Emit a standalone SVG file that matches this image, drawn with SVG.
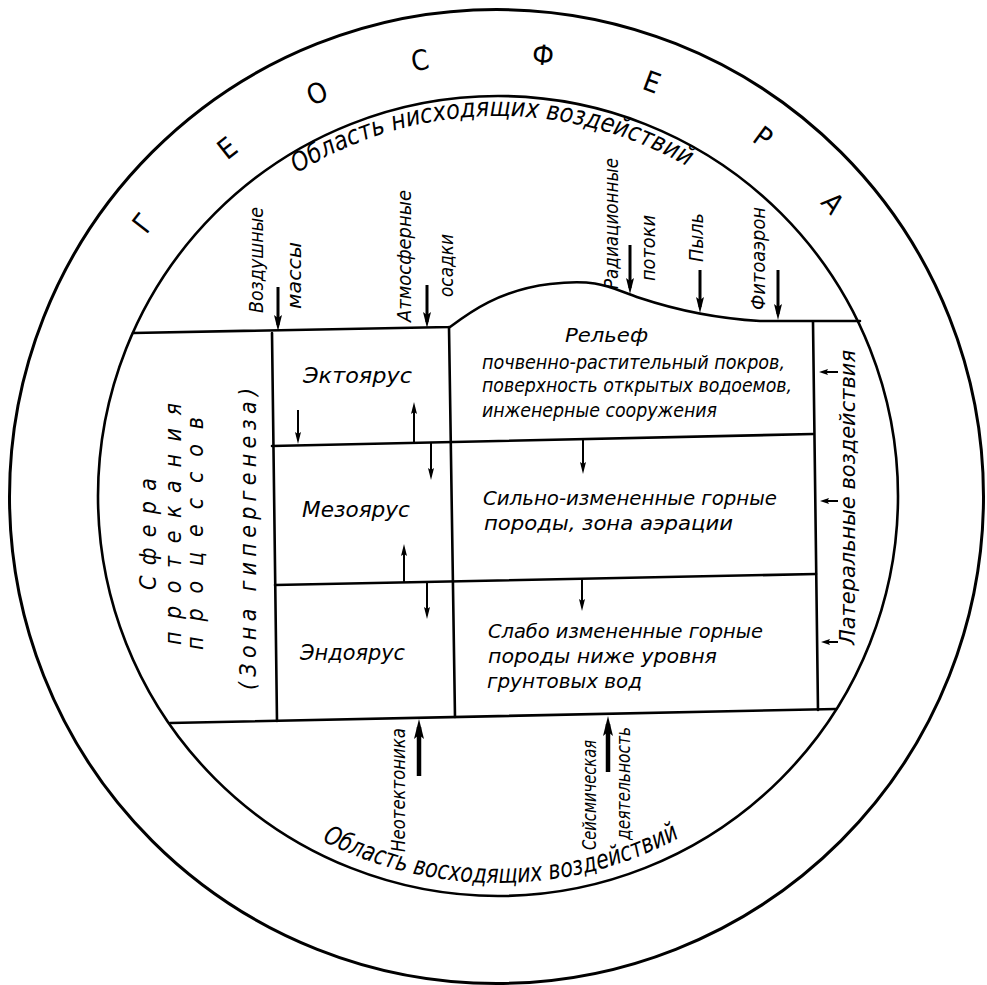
<svg xmlns="http://www.w3.org/2000/svg" width="987" height="985" viewBox="0 0 987 985">
<style>
.ring{fill:none;stroke:#000;stroke-width:3}
.ln{fill:none;stroke:#000;stroke-width:2.6;stroke-linecap:round;stroke-linejoin:round}
.t{font-family:'Liberation Sans Narrow','DejaVu Sans Condensed','Liberation Sans',sans-serif;font-style:italic;fill:#000}
.g{font-family:'Liberation Sans Narrow','DejaVu Sans Condensed','Liberation Sans',sans-serif;font-size:28px;fill:#000}
.s20{font-size:20px}
.s21{font-size:21px}
.s22{font-size:22px}
.s23{font-size:23px}
.s26{font-size:26px}
.a{fill:none;stroke:#000;stroke-width:2;marker-end:url(#ah)}
.as{fill:none;stroke:#000;stroke-width:2;marker-end:url(#ahs)}
.ab{fill:none;stroke:#000;stroke-width:3;marker-end:url(#ahb)}
.abb{fill:none;stroke:#000;stroke-width:4.5;marker-end:url(#ahbb)}
</style>
<defs>
<marker id="ah" markerUnits="userSpaceOnUse" markerWidth="12" markerHeight="6" viewBox="0 0 12 6" refX="8" refY="3" orient="auto"><path d="M0,0 L12,3 L0,6 L2,3 z" fill="#000"/></marker>
<marker id="ahs" markerUnits="userSpaceOnUse" markerWidth="9" markerHeight="6" viewBox="0 0 9 6" refX="6" refY="3" orient="auto"><path d="M0,0 L9,3 L0,6 L1.5,3 z" fill="#000"/></marker>
<marker id="ahb" markerUnits="userSpaceOnUse" markerWidth="16" markerHeight="8" viewBox="0 0 16 8" refX="10" refY="4" orient="auto"><path d="M0,0 L16,4 L0,8 L3,4 z" fill="#000"/></marker>
<marker id="ahbb" markerUnits="userSpaceOnUse" markerWidth="20" markerHeight="10" viewBox="0 0 20 10" refX="12" refY="5" orient="auto"><path d="M0,0 L20,5 L0,10 L4,5 z" fill="#000"/></marker>
<path id="arcTop" d="M118,496 A380,380 0 0 1 878,496"/>
<path id="arcBot" d="M111,496 A387,387 0 0 0 885,496"/>
</defs>
<rect width="987" height="985" fill="#fff"/>

<g id="geosphere">
<circle class="ring" cx="496.5" cy="496.5" r="487"/>
<text class="g" text-anchor="middle" dy="10" transform="translate(143,223) rotate(-52)">Г</text>
<text class="g" text-anchor="middle" dy="10" transform="translate(227,148) rotate(-38)">Е</text>
<text class="g" text-anchor="middle" dy="10" transform="translate(317,93) rotate(-24)">О</text>
<text class="g" text-anchor="middle" dy="10" transform="translate(420,60) rotate(-10)">С</text>
<text class="g" text-anchor="middle" dy="10" transform="translate(543,55) rotate(6)">Ф</text>
<text class="g" text-anchor="middle" dy="10" transform="translate(652,82) rotate(20.5)">Е</text>
<text class="g" text-anchor="middle" dy="10" transform="translate(763,137) rotate(36.5)">Р</text>
<text class="g" text-anchor="middle" dy="10" transform="translate(833,203) rotate(49)">А</text>
</g>

<g id="inner-circle">
<circle class="ring" cx="498" cy="496" r="400" style="stroke-width:2.6"/>
<text class="t s26"><textPath href="#arcTop" startOffset="385" textLength="410" lengthAdjust="spacingAndGlyphs">Область нисходящих воздействий</textPath></text>
<text class="t s26"><textPath href="#arcBot" startOffset="425" textLength="372" lengthAdjust="spacingAndGlyphs">Область восходящих воздействий</textPath></text>
</g>

<g id="frame">
<path class="ln" d="M133,333 L450,327 C470,312 500,290 550,284 S610,288 640,298 S710,318 760,321 L860,321"/>
<path class="ln" d="M170,723 L836,709"/>
<path class="ln" d="M272,333 L277,721"/>
<path class="ln" d="M449,327 L455,717"/>
<path class="ln" d="M813,322 L818,710"/>
<path class="ln" d="M272,446 L813,434"/>
<path class="ln" d="M275,585 L816,574"/>
</g>

<g id="sphere">
<text class="t s23" transform="translate(156,590) rotate(-90)" textLength="112" lengthAdjust="spacing">Сфера</text>
<text class="t s23" transform="translate(181,645) rotate(-90)" textLength="242" lengthAdjust="spacing">протекания</text>
<text class="t s23" transform="translate(203,650) rotate(-90)" textLength="233" lengthAdjust="spacing">процессов</text>
<text class="t s23" transform="translate(256,690) rotate(-90)" textLength="302" lengthAdjust="spacing">(Зона гипергенеза)</text>
</g>

<g id="ecto">
<text class="t s21" x="303" y="383" textLength="109" lengthAdjust="spacingAndGlyphs">Эктоярус</text>
</g>
<g id="meso">
<text class="t s21" x="302" y="517" textLength="108" lengthAdjust="spacingAndGlyphs">Мезоярус</text>
</g>
<g id="endo">
<text class="t s21" x="300" y="660" textLength="105" lengthAdjust="spacingAndGlyphs">Эндоярус</text>
</g>

<g id="relief">
<text class="t s20" x="565" y="342" textLength="83" lengthAdjust="spacingAndGlyphs">Рельеф</text>
<text class="t s20" x="482" y="369" textLength="303" lengthAdjust="spacingAndGlyphs">почвенно-растительный покров,</text>
<text class="t s20" x="482" y="392" textLength="310" lengthAdjust="spacingAndGlyphs">поверхность открытых водоемов,</text>
<text class="t s20" x="482" y="417" textLength="235" lengthAdjust="spacingAndGlyphs">инженерные сооружения</text>
</g>
<g id="strong-altered">
<text class="t s20" x="483" y="505" textLength="294" lengthAdjust="spacingAndGlyphs">Сильно-измененные горные</text>
<text class="t s20" x="484" y="530" textLength="249" lengthAdjust="spacingAndGlyphs">породы, зона аэрации</text>
</g>
<g id="weak-altered">
<text class="t s20" x="488" y="638" textLength="275" lengthAdjust="spacingAndGlyphs">Слабо измененные горные</text>
<text class="t s20" x="488" y="663" textLength="229" lengthAdjust="spacingAndGlyphs">породы ниже уровня</text>
<text class="t s20" x="487" y="688" textLength="155" lengthAdjust="spacingAndGlyphs">грунтовых вод</text>
</g>

<g id="lateral">
<text class="t s22" transform="translate(855,645) rotate(-90)" textLength="295" lengthAdjust="spacingAndGlyphs">Латеральные воздействия</text>
</g>

<g id="top-labels">
<text class="t s20" transform="translate(263,313) rotate(-90)" textLength="106" lengthAdjust="spacingAndGlyphs">Воздушные</text>
<text class="t s20" transform="translate(301,309) rotate(-90)" textLength="67" lengthAdjust="spacingAndGlyphs">массы</text>
<text class="t s20" transform="translate(411,322) rotate(-90)" textLength="132" lengthAdjust="spacingAndGlyphs">Атмосферные</text>
<text class="t s20" transform="translate(453,297) rotate(-90)" textLength="63" lengthAdjust="spacingAndGlyphs">осадки</text>
<text class="t s20" transform="translate(618,289) rotate(-90)" textLength="131" lengthAdjust="spacingAndGlyphs">Радиационные</text>
<text class="t s20" transform="translate(655,281) rotate(-90)" textLength="66" lengthAdjust="spacingAndGlyphs">потоки</text>
<text class="t s20" transform="translate(703,262) rotate(-90)" textLength="49" lengthAdjust="spacingAndGlyphs">Пыль</text>
<text class="t s20" transform="translate(765,310) rotate(-90)" textLength="103" lengthAdjust="spacingAndGlyphs">Фитоаэрон</text>
</g>

<g id="bottom-labels">
<text class="t s20" transform="translate(405,852) rotate(-90)" textLength="124" lengthAdjust="spacingAndGlyphs">Неотектоника</text>
<text class="t s20" transform="translate(596,850) rotate(-90)" textLength="110" lengthAdjust="spacingAndGlyphs">Сейсмическая</text>
<text class="t s20" transform="translate(630,840) rotate(-90)" textLength="113" lengthAdjust="spacingAndGlyphs">деятельность</text>
</g>

<g id="connectors">
<line class="ab" x1="278" y1="287" x2="278" y2="325"/>
<line class="ab" x1="427" y1="285" x2="427" y2="322"/>
<line class="ab" x1="630" y1="245" x2="630" y2="288"/>
<line class="ab" x1="700" y1="270" x2="700" y2="307"/>
<line class="ab" x1="778" y1="270" x2="778" y2="314"/>
<line class="a" x1="298" y1="410" x2="298" y2="440"/>
<line class="a" x1="414" y1="443" x2="414" y2="406"/>
<line class="a" x1="431" y1="443" x2="431" y2="476"/>
<line class="a" x1="404" y1="582" x2="404" y2="548"/>
<line class="a" x1="427" y1="582" x2="427" y2="615"/>
<line class="a" x1="583" y1="440" x2="583" y2="470"/>
<line class="a" x1="582" y1="578" x2="582" y2="607"/>
<line class="as" x1="838" y1="372" x2="822" y2="372"/>
<line class="as" x1="838" y1="501" x2="823" y2="501"/>
<line class="as" x1="838" y1="642" x2="824" y2="642"/>
<line class="abb" x1="419" y1="776" x2="419" y2="727"/>
<line class="abb" x1="608" y1="772" x2="608" y2="724"/>
</g>
</svg>
